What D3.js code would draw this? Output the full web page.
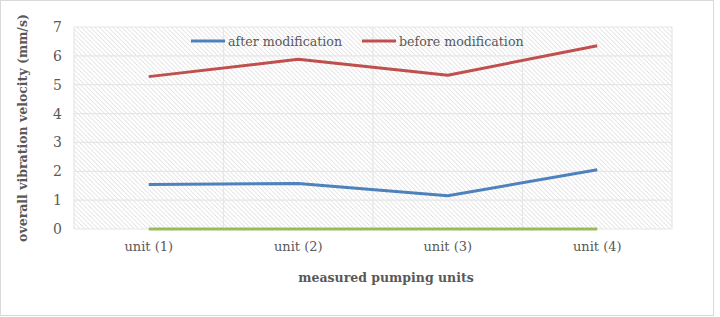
<!DOCTYPE html>
<html><head><meta charset="utf-8">
<script src="https://cdn.jsdelivr.net/npm/d3@7"></script>
<style>body{margin:0;background:#fff}svg{display:block}</style>
</head><body>
<svg id="c" width="720" height="317"></svg>
<script>
const categories = ["unit (1)", "unit (2)", "unit (3)", "unit (4)"];
const afterMod = [1.54, 1.58, 1.15, 2.05];
const beforeMod = [5.28, 5.88, 5.33, 6.35];
const baseline = [0, 0, 0, 0];
const yTicks = [0, 1, 2, 3, 4, 5, 6, 7];

const svg = d3.select("#c");
const font = "'DejaVu Serif', serif";
const textColor = "#595959";
const m = {l: 74, r: 672, t: 27, b: 229};

svg.append("rect").attr("x", 0.5).attr("y", 0.5).attr("width", 713).attr("height", 315)
  .attr("fill", "#fff").attr("stroke", "#d9d9d9");

const defs = svg.append("defs");
const pat = defs.append("pattern").attr("id", "hatch").attr("patternUnits", "userSpaceOnUse")
  .attr("width", 4.5).attr("height", 4.5);
pat.append("path").attr("d", "M-1,-1 L5.5,5.5 M-1,3.5 L1,5.5 M3.5,-1 L5.5,1")
  .attr("stroke", "#d9d9d9").attr("stroke-width", 0.9);

const x = d3.scaleBand().domain(categories).range([m.l, m.r]);
const y = d3.scaleLinear().domain([0, 7]).range([m.b, m.t]);

svg.append("rect").attr("x", m.l).attr("y", m.t).attr("width", m.r - m.l).attr("height", m.b - m.t)
  .attr("fill", "url(#hatch)");

// gridlines
svg.append("g").selectAll("line").data(yTicks).join("line")
  .attr("x1", m.l).attr("x2", m.r).attr("y1", d => y(d)).attr("y2", d => y(d))
  .attr("stroke", "#e6e6e6").attr("stroke-width", 1.2);
const vlines = categories.map(c => x(c)).concat([m.r]);
svg.append("g").selectAll("line").data(vlines).join("line")
  .attr("x1", d => d).attr("x2", d => d).attr("y1", m.t).attr("y2", m.b)
  .attr("stroke", "#e6e6e6").attr("stroke-width", 1.2);

// y axis labels
const yAxis = d3.axisLeft(y).tickValues(yTicks).tickFormat(d3.format("d")).tickSize(0).tickPadding(12);
const ga = svg.append("g").attr("transform", `translate(${m.l},0)`).call(yAxis);
ga.select(".domain").remove();
ga.selectAll("text").attr("font-family", font).attr("font-size", 14).attr("fill", textColor);

// x axis labels
const xAxis = d3.axisBottom(x).tickSize(0).tickPadding(13);
const gx = svg.append("g").attr("transform", `translate(0,${m.b})`).call(xAxis);
gx.select(".domain").remove();
gx.selectAll("text").attr("font-family", font).attr("font-size", 13).attr("fill", textColor);

const line = d3.line().x((d, i) => x(categories[i]) + x.bandwidth() / 2).y(d => y(d));
const series = [
  {name: "baseline", values: baseline, color: "#9bbb59"},
  {name: "after modification", values: afterMod, color: "#4f81bd"},
  {name: "before modification", values: beforeMod, color: "#c0504d"}
];
series.forEach(s => {
  svg.append("path").datum(s.values).attr("d", line).attr("fill", "none")
    .attr("stroke", s.color).attr("stroke-width", 3).attr("stroke-linejoin", "round");
});

// legend
const legend = [
  {name: "after modification", color: "#4f81bd", x: 191},
  {name: "before modification", color: "#c0504d", x: 362}
];
legend.forEach(l => {
  svg.append("line").attr("x1", l.x).attr("x2", l.x + 34).attr("y1", 41).attr("y2", 41)
    .attr("stroke", l.color).attr("stroke-width", 3);
  svg.append("text").attr("x", l.x + 37).attr("y", 45.5).text(l.name)
    .attr("font-family", font).attr("font-size", 12.6).attr("fill", textColor);
});

// titles
svg.append("text").attr("x", 386).attr("y", 282).attr("text-anchor", "middle")
  .text("measured pumping units").attr("font-family", font).attr("font-weight", "bold")
  .attr("font-size", 12.5).attr("fill", textColor);
svg.append("text").attr("transform", `translate(27,${(m.t + m.b) / 2}) rotate(-90)`)
  .attr("text-anchor", "middle").text("overall vibration velocity (mm/s)")
  .attr("font-family", font).attr("font-weight", "bold").attr("font-size", 12.5).attr("fill", textColor);
</script>
</body></html>
